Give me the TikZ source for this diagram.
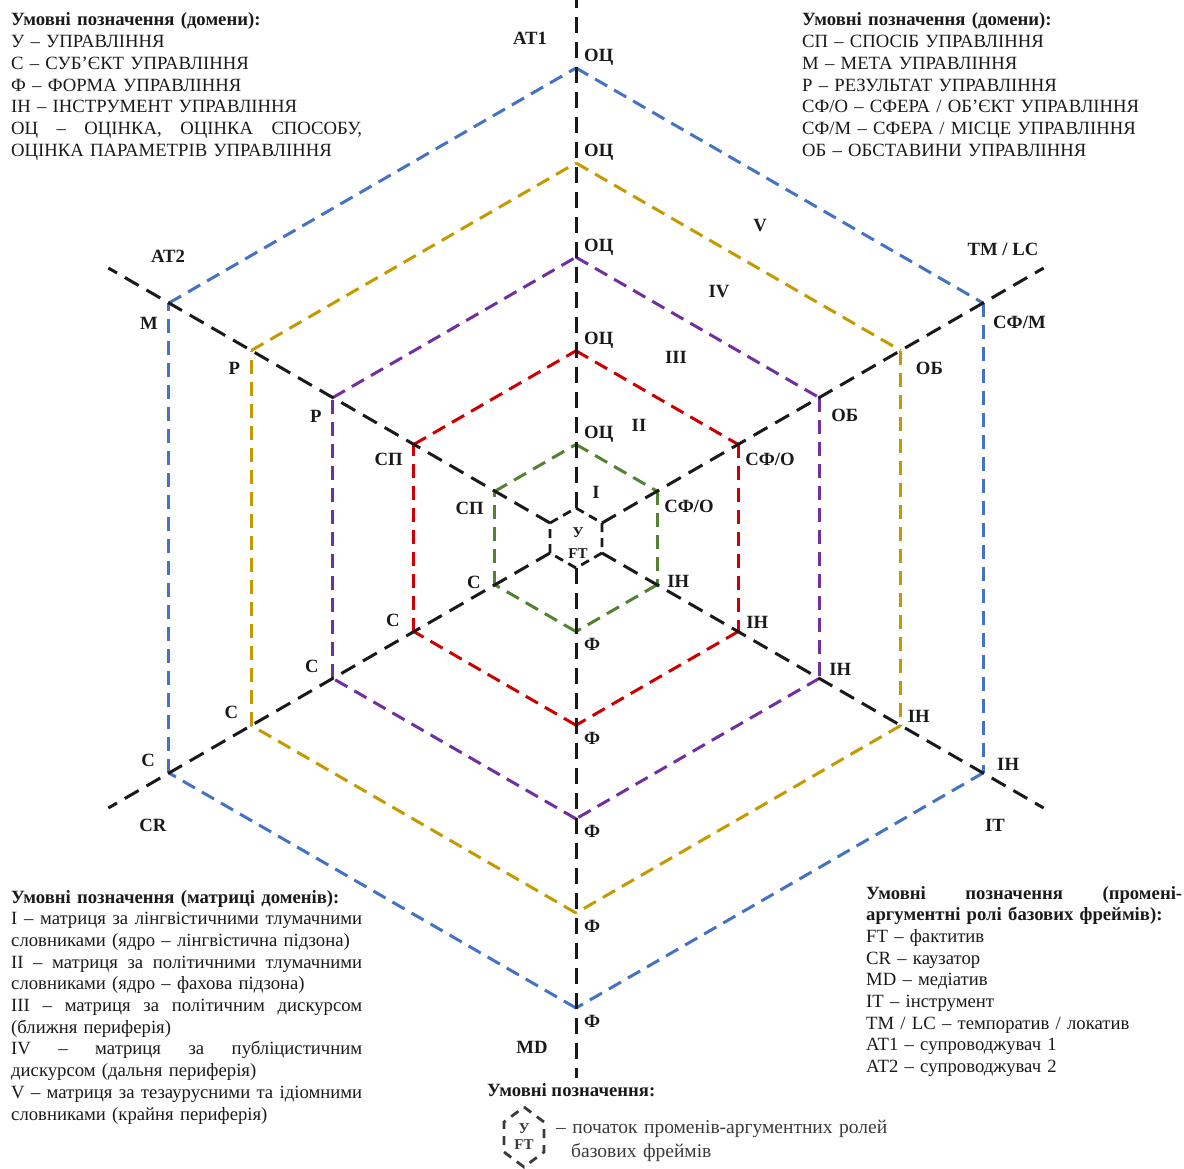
\documentclass[tikz,border=0pt]{standalone}
\usepackage{fontspec}
\setmainfont{Liberation Serif}
\usetikzlibrary{calc}
\definecolor{hblue}{HTML}{4472C4}
\definecolor{hgold}{HTML}{C49A00}
\definecolor{hpurple}{HTML}{7030A0}
\definecolor{hred}{HTML}{CC0000}
\definecolor{hgreen}{HTML}{548235}
\definecolor{axisblack}{HTML}{1A1A1A}
\definecolor{icongray}{HTML}{3A3A3A}
\newcommand{\jline}[2]{\makebox[#1][s]{\spaceskip=.25em plus 10em minus .05em\relax #2}}
\begin{document}
\begin{tikzpicture}[x=1pt,y=1pt,
  hexline/.style={line width=3pt, dash pattern=on 14pt off 8pt},
  axisline/.style={line width=3pt, dash pattern=on 16pt off 9pt, draw=axisblack},
  smallhex/.style={line width=2.8pt, dash pattern=on 9pt off 6pt, draw=axisblack},
  lbl/.style={font=\fontsize{18.7}{21.7}\selectfont\bfseries, inner sep=0pt, text=axisblack},
  legend/.style={font=\fontsize{18.7}{21.7}\selectfont, inner sep=0pt, anchor=base west, align=left, text=axisblack}]
\useasboundingbox (0,0) rectangle (1184,-1169);
\coordinate (C) at (576,-538);
\foreach \i/\a in {1/90,2/30,3/-30,4/-90,5/-150,6/150} {
  \coordinate (h0-\i) at ($(C)+(\a:30)$);
  \coordinate (ax-\i) at ($(C)+(\a:540)$);
  \foreach \k/\r in {1/93.6,2/187.2,3/280.8,4/375,5/470}
    \coordinate (h\k-\i) at ($(C)+(\a:\r)$);
}
% hexagons
\foreach \k/\col in {1/hgreen,2/hred,3/hpurple,4/hgold,5/hblue} {
  \foreach \i/\j in {1/2,2/3,3/4,4/5,5/6,6/1}
    \draw[hexline,draw=\col] (h\k-\i) -- (h\k-\j);
}
% small hexagon
\draw[smallhex] (h0-1) -- (h0-2) -- (h0-3) -- (h0-4) -- (h0-5) -- (h0-6) -- cycle;
% axes
\foreach \i in {1,...,6}
  \draw[axisline] (h0-\i) -- (ax-\i);
% vertex labels
\foreach \k in {1,...,5} {
  \node[lbl, anchor=base west] (oc\k) at ($(h\k-1)+(8,6)$) {ОЦ};
  \node[lbl, anchor=base west] (f\k) at ($(h\k-4)+(8,-19)$) {Ф};
}
\foreach \k/\dx/\dy in {1/10/-3,2/8/3,3/10/3,4/7/3,5/14/3}
  \node[lbl, anchor=base west] (in\k) at ($(h\k-3)+(\dx,\dy)$) {ІН};
\foreach \k/\dx/\dy in {1/-14/-4,2/-14/5,3/-14/6,4/-13/7,5/-14/7}
  \node[lbl, anchor=base east] (s\k) at ($(h\k-5)+(\dx,\dy)$) {С};
\foreach \k/\t/\dx/\dy in {1/{СФ/О}/7/-21,2/{СФ/О}/7/-21,3/{ОБ}/12/-24,4/{ОБ}/15/-24,5/{СФ/М}/10/-25}
  \node[lbl, anchor=base west] (ur\k) at ($(h\k-2)+(\dx,\dy)$) {\t};
\foreach \k/\t/\dy in {1/{СП}/-23,2/{СП}/-21,3/{Р}/-25,4/{Р}/-24,5/{М}/-26}
  \node[lbl, anchor=base east] (ul\k) at ($(h\k-6)+(-11,\dy)$) {\t};
% centre
\node[lbl, anchor=base, font=\fontsize{15}{18}\selectfont\bfseries] (cu) at (578,-537) {У};
\node[lbl, anchor=base, font=\fontsize{15}{18}\selectfont\bfseries] (cft) at (578,-558) {FT};
% axis labels
\node[lbl, anchor=base] (at1) at (530,-45) {AT1};
\node[lbl, anchor=base] (tmlc) at (1003,-256) {TM / LC};
\node[lbl, anchor=base] (it) at (995,-831) {IT};
\node[lbl, anchor=base] (md) at (532,-1053) {MD};
\node[lbl, anchor=base] (cr) at (153,-831) {CR};
\node[lbl, anchor=base] (at2) at (168,-263) {AT2};
% roman numerals
\node[lbl, anchor=base] (r1) at (596,-498) {I};
\node[lbl, anchor=base] (r2) at (639,-431) {II};
\node[lbl, anchor=base] (r3) at (676,-363) {III};
\node[lbl, anchor=base] (r4) at (719,-298) {IV};
\node[lbl, anchor=base] (r5) at (760,-232) {V};
% legends
\node[legend, text width=351pt] (legTL) at (11,-26) {\textbf{Умовні позначення (домени):}\\
У – УПРАВЛІННЯ\\
С – СУБ’ЄКТ УПРАВЛІННЯ\\
Ф – ФОРМА УПРАВЛІННЯ\\
ІН – ІНСТРУМЕНТ УПРАВЛІННЯ\\
\jline{351pt}{ОЦ – ОЦІНКА, ОЦІНКА СПОСОБУ,}\\
ОЦІНКА ПАРАМЕТРІВ УПРАВЛІННЯ};
\node[legend, text width=380pt] (legTR) at (802,-26) {\textbf{Умовні позначення (домени):}\\
СП – СПОСІБ УПРАВЛІННЯ\\
М – МЕТА УПРАВЛІННЯ\\
Р – РЕЗУЛЬТАТ УПРАВЛІННЯ\\
СФ/О – СФЕРА / ОБ’ЄКТ УПРАВЛІННЯ\\
СФ/М – СФЕРА / МІСЦЕ УПРАВЛІННЯ\\
ОБ – ОБСТАВИНИ УПРАВЛІННЯ};
\node[legend, text width=351pt] (legBL) at (11,-903) {\textbf{Умовні позначення (матриці доменів):}\\
\jline{351pt}{I – матриця за лінгвістичними тлумачними}\\
словниками (ядро – лінгвістична підзона)\\
\jline{351pt}{II – матриця за політичними тлумачними}\\
словниками (ядро – фахова підзона)\\
\jline{351pt}{III – матриця за політичним дискурсом}\\
(ближня периферія)\\
\jline{351pt}{IV – матриця за публіцистичним}\\
дискурсом (дальня периферія)\\
\jline{351pt}{V – матриця за тезаурусними та ідіомними}\\
словниками (крайня периферія)};
\node[legend, text width=316pt] (legBR) at (866,-899) {\jline{316pt}{\bfseries Умовні позначення (промені-}\\
\textbf{аргументні ролі базових фреймів):}\\
FT – фактитив\\
CR – каузатор\\
MD – медіатив\\
IT – інструмент\\
TM / LC – темпоратив / локатив\\
AT1 – супроводжувач 1\\
AT2 – супроводжувач 2};
\node[lbl, anchor=base west] (legBC) at (487,-1096) {Умовні позначення:};
% icon
\coordinate (IC) at (524,-1137);
\foreach \i/\a in {1/90,2/30,3/-30,4/-90,5/-150,6/150}
  \coordinate (ic-\i) at ($(IC)+({0.77*30*cos(\a)},{30*sin(\a)})$);
\draw[line width=2.8pt, dash pattern=on 9pt off 7pt, draw=icongray] (ic-1) -- (ic-2) -- (ic-3) -- (ic-4) -- (ic-5) -- (ic-6) -- cycle;
\node[anchor=base, inner sep=0pt, font=\fontsize{15}{16}\selectfont\bfseries, text=icongray] (icu) at (524,-1133) {У};
\node[anchor=base, inner sep=0pt, font=\fontsize{15}{16}\selectfont\bfseries, text=icongray] (icft) at (524,-1149) {FT};
\node[anchor=base west, inner sep=0pt, text width=360pt, align=left, font=\fontsize{19.5}{24}\selectfont, text=icongray] (ictext) at (556,-1133) {– початок променів-аргументних ролей\\\hspace*{15pt}базових фреймів};
\end{tikzpicture}
\end{document}
